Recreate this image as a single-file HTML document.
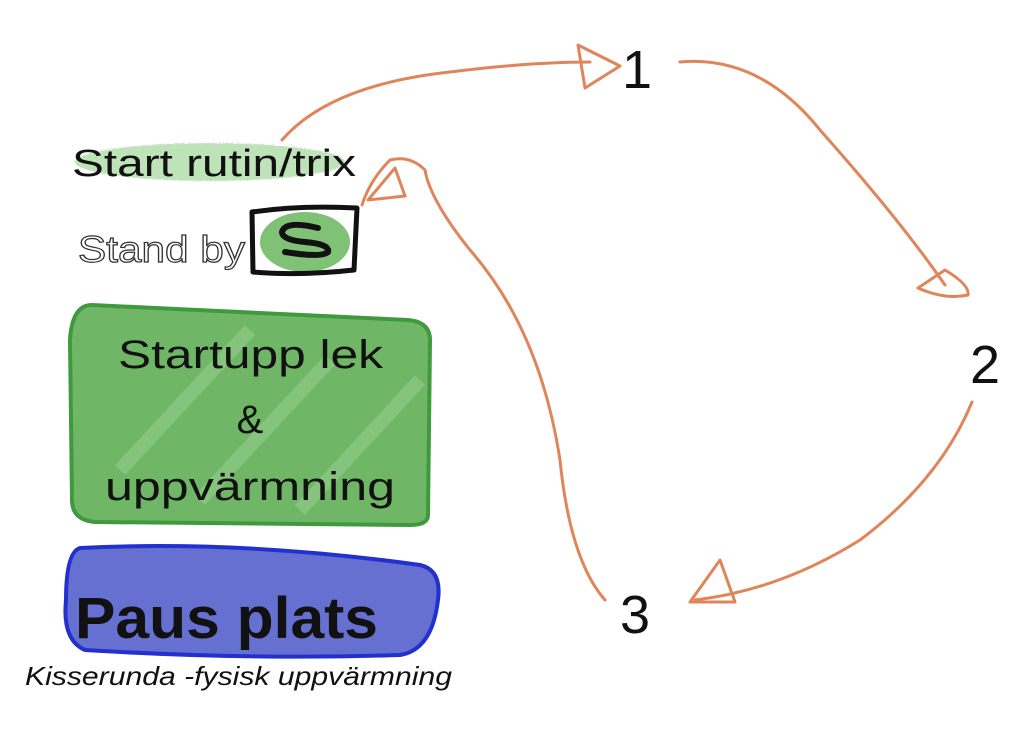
<!DOCTYPE html>
<html><head><meta charset="utf-8"><style>
html,body{margin:0;padding:0;background:#fff;}
svg{display:block;}
</style></head><body>
<svg width="1024" height="752" viewBox="0 0 1024 752" xmlns="http://www.w3.org/2000/svg">
<defs>
<filter id="rough"><feTurbulence type="fractalNoise" baseFrequency="0.9" numOctaves="2" result="n"/><feDisplacementMap in="SourceGraphic" in2="n" scale="4"/></filter>
</defs>
<ellipse cx="210" cy="162" rx="135" ry="19" fill="#bfe3b8" filter="url(#rough)"/>
<path d="M92 305 L408 320 Q430 322 430 340 L428 515 Q428 525 410 525 L95 522 Q72 520 72 500 L70 340 Q72 305 92 305 Z" fill="#6fb766" stroke="#3f9a3d" stroke-width="4"/>
<path d="M120 470 L250 330 M200 500 L330 360 M300 510 L420 380" stroke="#a8d8a0" stroke-width="14" opacity="0.4"/>
<path d="M80 548 Q240 540 420 565 Q442 570 438 600 Q432 650 400 655 Q250 660 85 650 Q62 640 66 600 Q66 552 80 548 Z" fill="#6670d0" stroke="#2230d0" stroke-width="4"/>
<ellipse cx="305" cy="242" rx="45" ry="30" fill="#7fc276"/>
<path d="M252 212 Q300 205 357 208 L354 270 Q300 276 253 272 Z" fill="none" stroke="#111" stroke-width="5" stroke-linejoin="round"/>
<path d="M318 228 Q285 220 282 232 Q282 240 305 242 Q330 244 328 252 Q322 258 285 252" fill="none" stroke="#111" stroke-width="6" stroke-linecap="round"/>
<g fill="none" stroke="#e0855a" stroke-width="3" stroke-linecap="round" stroke-linejoin="round">
<path d="M282 140 Q330 85 450 72 Q530 62 590 62"/>
<path d="M578 45 L620 66 L585 88 Z"/>
<path d="M680 62 Q760 55 820 130 Q900 220 945 285"/>
<path d="M945 270 Q970 285 968 295 Q945 300 918 288 Z"/>
<path d="M972 402 Q940 480 860 540 Q780 590 695 600"/>
<path d="M720 560 L690 602 L735 602 Z"/>
<path d="M605 600 Q570 560 560 460 Q540 330 470 250 Q430 200 425 170 Q410 155 390 160 Q370 180 362 205"/>
<path d="M395 168 L368 200 L405 196 Z"/>
</g>
<g font-family="'Liberation Sans',sans-serif" fill="#111">
<text x="72" y="176" font-size="38" textLength="284" lengthAdjust="spacingAndGlyphs">Start rutin/trix</text>
<text x="78" y="262" font-size="37" fill="#fff" stroke="#333" stroke-width="1.2" textLength="167" lengthAdjust="spacingAndGlyphs">Stand by</text>
<text x="118" y="368" font-size="40" textLength="265" lengthAdjust="spacingAndGlyphs">Startupp lek</text>
<text x="250" y="433" font-size="40" text-anchor="middle">&amp;</text>
<text x="105" y="500" font-size="40" textLength="290" lengthAdjust="spacingAndGlyphs">uppvärmning</text>
<text x="75" y="638" font-size="58" font-weight="bold" textLength="303" lengthAdjust="spacingAndGlyphs">Paus plats</text>
<text x="25" y="685" font-size="26" font-style="italic" textLength="427" lengthAdjust="spacingAndGlyphs">Kisserunda -fysisk uppvärmning</text>
<text x="622" y="88" font-size="54">1</text>
<text x="970" y="383" font-size="54">2</text>
<text x="620" y="633" font-size="54">3</text>
</g>
</svg>
</body></html>
